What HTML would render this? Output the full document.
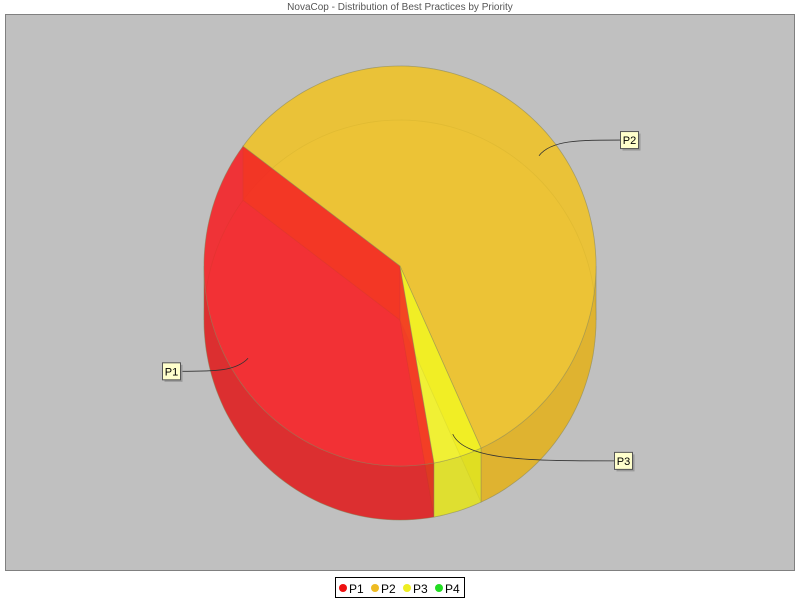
<!DOCTYPE html>
<html><head><meta charset="utf-8"><style>
body{margin:0;background:#fff;font-family:"Liberation Sans",sans-serif}
</style></head><body>
<svg width="800" height="600" xmlns="http://www.w3.org/2000/svg">
<text x="400" y="10" text-anchor="middle" font-size="10" fill="#555" font-family="Liberation Sans, sans-serif">NovaCop - Distribution of Best Practices by Priority</text>
<rect x="5.5" y="14.5" width="789" height="556" fill="#c0c0c0" stroke="#808080"/>
<g id="pie"></g>
<g id="labels"></g>
<g>
<rect x="335.5" y="577.5" width="129" height="20" fill="#fff" stroke="#000"/>
<circle cx="343" cy="588" r="4" fill="#ee1111"/><text x="349" y="593" font-size="12" fill="#000">P1</text>
<circle cx="375" cy="588" r="4" fill="#eebb22"/><text x="381" y="593" font-size="12" fill="#000">P2</text>
<circle cx="407" cy="588" r="4" fill="#eeee22"/><text x="413" y="593" font-size="12" fill="#000">P3</text>
<circle cx="439" cy="588" r="4" fill="#22dd22"/><text x="445" y="593" font-size="12" fill="#000">P4</text>
</g>
</svg>
<script>
const categories = ["P1","P2","P3","P4"];
const values = [38, 58, 4, 0];
const topColors = ["#f81e22","#f2c424","#f6f622","#22dd22"];
const sideColors = ["#dd2020","#e0b020","#e0e020","#20c020"];
const NS="http://www.w3.org/2000/svg";
const cx=400, cy=266, rx=196, ry=200, depth=54, start=80;
const pie=document.getElementById('pie'), lab=document.getElementById('labels');
const total=values.reduce((a,b)=>a+b,0);
function pt(a,dy){const r=a*Math.PI/180;return [cx+rx*Math.cos(r), cy+dy+ry*Math.sin(r)];}
function arc(a1,a2,dy){const p=[];const n=Math.max(2,Math.ceil(Math.abs(a2-a1)/2));for(let i=0;i<=n;i++){p.push(pt(a1+(a2-a1)*i/n,dy));}return p;}
function path(pts){return 'M'+pts.map(p=>p[0].toFixed(1)+','+p[1].toFixed(1)).join('L')+'Z';}
function add(parent,d,fill,name,op){const e=document.createElementNS(NS,'path');e.setAttribute('d',d);e.setAttribute('fill',fill);e.setAttribute('fill-opacity',op||'0.8');e.setAttribute('stroke','#8a8a60');e.setAttribute('stroke-opacity','0.45');e.setAttribute('stroke-width','0.8');


parent.appendChild(e);return e;}
const slices=[];let acc=start;
values.forEach((v,i)=>{const span=v/total*360;slices.push({i,a1:acc,a2:acc+span});acc+=span;});
function walls(s,from,to,cls){for(let k=-360;k<=360;k+=360){const lo=Math.max(s.a1,k+from),hi=Math.min(s.a2,k+to);if(hi>lo){
const t=arc(lo,hi,0),b=arc(hi,lo,depth);add(pie,path(t.concat(b)),sideColors[s.i],cls+categories[s.i].toLowerCase(),'0.4');}}}
slices.forEach(s=>{if(s.a2-s.a1<=0)return;add(pie,path([[cx,cy+depth]].concat(arc(s.a1,s.a2,depth))),topColors[s.i],'slice-bottom-'+categories[s.i].toLowerCase(),'0.45');});
slices.forEach(s=>{if(s.a2-s.a1<=0)return;walls(s,180,360,'slice-back-');});
slices.forEach(s=>{if(s.a2-s.a1<=0)return;[s.a1,s.a2].forEach(a=>{const e=pt(a,0),eb=pt(a,depth);
add(pie,path([[cx,cy],e,eb,[cx,cy+depth]]),sideColors[s.i],'slice-wall-'+categories[s.i].toLowerCase(),'0.6');});});
slices.forEach(s=>{if(s.a2-s.a1<=0)return;for(let k=-360;k<=360;k+=360){const lo=Math.max(s.a1,k),hi=Math.min(s.a2,k+180);if(hi>lo){
const t=arc(lo,hi,0),b=arc(hi,lo,depth);add(pie,path(t.concat(b)),sideColors[s.i],'slice-side-'+categories[s.i].toLowerCase(),'0.82');}}});
slices.forEach(s=>{if(s.a2-s.a1<=0)return;add(pie,path([[cx,cy]].concat(arc(s.a1,s.a2,0))),topColors[s.i],'slice-'+categories[s.i].toLowerCase(),'0.78');});
slices.forEach(s=>{if(s.a2-s.a1<=0)return;const m=(s.a1+s.a2)/2;const r=m*Math.PI/180;
const ax=cx+rx*0.91*Math.cos(r), ay=cy+ry*0.88*Math.sin(r);
const right=Math.cos(r)>0;const lx=right?(Math.sin(r)>0.8?614:620):180;const ly=ay+(Math.sin(r)>0.8?28*Math.sin(r):25*Math.sin(r));
const line=document.createElementNS(NS,'path');
line.setAttribute('d',`M${ax},${ay} C${ax+(right?12:-12)},${ly} ${(ax+lx)/2},${ly} ${lx},${ly}`);
line.setAttribute('fill','none');line.setAttribute('stroke','#333');line.setAttribute('stroke-width','0.8');


lab.appendChild(line);
const w=categories[s.i].length*7+4;const bx=right?lx:lx-w;
const g=document.createElementNS(NS,'g');


g.innerHTML=`<rect x="${bx+2.5}" y="${ly-6.5}" width="${w}" height="17" fill="#999"/><rect x="${bx+0.5}" y="${ly-8.5}" width="${w}" height="17" fill="#ffffcc" stroke="#555"/><text x="${bx+w/2+0.5}" y="${ly+4}" text-anchor="middle" font-size="11" fill="#000">${categories[s.i]}</text>`;
lab.appendChild(g);});
</script>
</body></html>
